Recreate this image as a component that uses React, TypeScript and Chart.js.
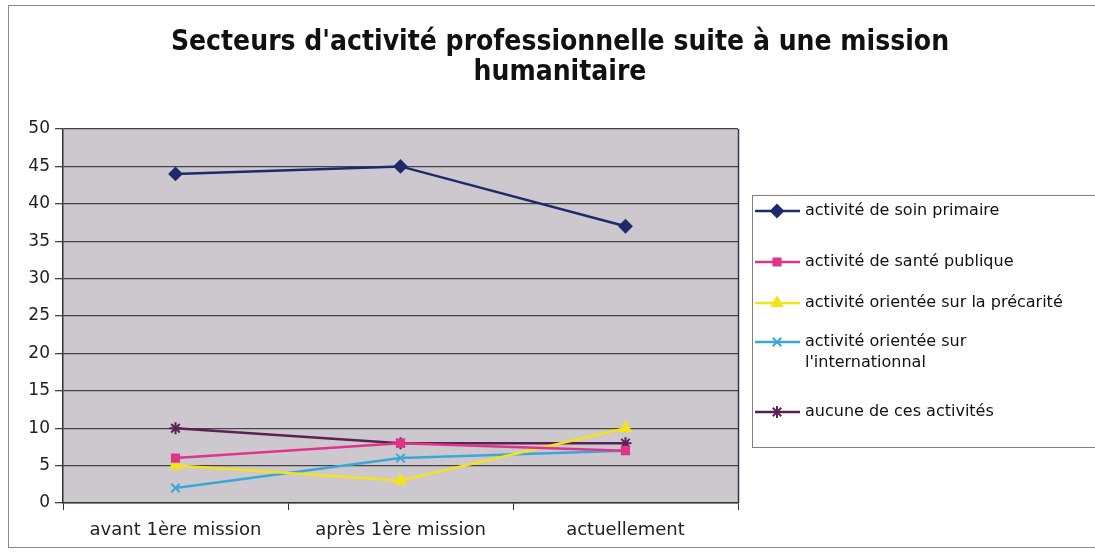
import React, { useEffect, useRef } from 'react';
import { Chart, registerables } from 'chart.js';
import { drawPoint } from 'chart.js/helpers';

Chart.register(...registerables);

const categories = ['avant 1ère mission', 'après 1ère mission', 'actuellement'];
const yTicks = [0, 5, 10, 15, 20, 25, 30, 35, 40, 45, 50];

const soinPrimaire = [44, 45, 37];
const santePublique = [6, 8, 7];
const precarite = [5, 3, 10];
const international = [2, 6, 7];
const aucune = [10, 8, 8];

const seriesLabels: string[][] = [
  ['activité de soin primaire'],
  ['activité de santé publique'],
  ['activité orientée sur la précarité'],
  ['activité orientée sur', "l'internationnal"],
  ['aucune de ces activités'],
];
const seriesValues = [soinPrimaire, santePublique, precarite, international, aucune];
const seriesColors = ['#1d2a6c', '#e0338b', '#f3e31c', '#3ba7d7', '#5a2252'];
const seriesMarkers = ['rectRot', 'rect', 'triangle', 'crossRot', 'star'];
const markerRadius = [6, 5, 6, 6, 6];

const titleLines = ["Secteurs d'activité professionnelle suite à une mission", 'humanitaire'];

const FONT = '"DejaVu Sans", Verdana, sans-serif';
const TITLE_FONT = '"DejaVu Sans Condensed", "DejaVu Sans", sans-serif';

const decorPlugin = {
  id: 'decor',
  beforeDraw(chart: any) {
    const ctx = chart.ctx;
    ctx.save();
    ctx.fillStyle = '#ffffff';
    ctx.fillRect(0, 0, chart.width, chart.height);
    ctx.strokeStyle = '#8a8a8a';
    ctx.lineWidth = 1;
    ctx.strokeRect(8.5, 5.5, 1200, 542);
    const a = chart.chartArea;
    ctx.fillStyle = '#ccc8ce';
    ctx.fillRect(a.left, a.top, a.right - a.left, a.bottom - a.top);
    ctx.restore();
  },
  afterDraw(chart: any) {
    const ctx = chart.ctx;
    const a = chart.chartArea;
    ctx.save();
    // plot border
    ctx.strokeStyle = '#34344a';
    ctx.lineWidth = 1.5;
    ctx.beginPath();
    ctx.moveTo(Math.round(a.right) + 0.5, a.top);
    ctx.lineTo(Math.round(a.right) + 0.5, a.bottom);
    ctx.stroke();
    // title
    ctx.fillStyle = '#111111';
    ctx.textAlign = 'center';
    ctx.textBaseline = 'middle';
    ctx.font = `bold 28px ${TITLE_FONT}`;
    ctx.fillText(titleLines[0], 560, 43);
    ctx.fillText(titleLines[1], 560, 73);
    // legend
    ctx.strokeStyle = '#808080';
    ctx.lineWidth = 1;
    ctx.strokeRect(752.5, 195.5, 400, 252);
    const ys = [211, 262, 303, 342, 412];
    ctx.font = `16px ${FONT}`;
    ctx.textAlign = 'left';
    for (let i = 0; i < seriesLabels.length; i++) {
      const y = ys[i];
      ctx.strokeStyle = seriesColors[i];
      ctx.lineWidth = 2.5;
      ctx.beginPath();
      ctx.moveTo(755, y);
      ctx.lineTo(800, y);
      ctx.stroke();
      ctx.fillStyle = seriesColors[i];
      ctx.lineWidth = 2;
      drawPoint(ctx, { pointStyle: seriesMarkers[i], radius: markerRadius[i], borderWidth: 2, rotation: 0 }, 777, y);
      ctx.fillStyle = '#111111';
      seriesLabels[i].forEach((line, k) => ctx.fillText(line, 805, y + k * 21));
    }
    ctx.restore();
  },
};

export default function App() {
  const ref = useRef<HTMLCanvasElement | null>(null);
  useEffect(() => {
    if (!ref.current) return;
    const chart = new Chart(ref.current, {
      type: 'line',
      data: {
        labels: categories,
        datasets: seriesValues.map((vals, i) => ({
          label: seriesLabels[i].join(' '),
          data: vals,
          borderColor: seriesColors[i],
          backgroundColor: seriesColors[i],
          pointStyle: seriesMarkers[i] as any,
          pointRadius: markerRadius[i],
          pointBorderWidth: 2,
          borderWidth: 2.5,
          tension: 0,
          fill: false,
        })),
      },
      options: {
        responsive: false,
        animation: false,
        layout: { padding: { left: 0, right: 357, top: 129, bottom: 0 } },
        plugins: { legend: { display: false }, title: { display: false }, tooltip: { enabled: false } },
        scales: {
          x: {
            offset: true,
            grid: { offset: true, drawOnChartArea: false, drawTicks: true, tickLength: 7, color: '#333333' },
            border: { display: true, color: '#333333', width: 1.5 },
            ticks: { color: '#222222', font: { family: FONT, size: 18 }, padding: 10, maxRotation: 0 },
            afterFit(scale: any) { scale.height = 52; },
          },
          y: {
            min: 0,
            max: 50,
            afterBuildTicks(scale: any) { scale.ticks = yTicks.map((v) => ({ value: v })); },
            grid: { color: '#454545', lineWidth: 1.3, tickLength: 8, drawTicks: true },
            border: { display: true, color: '#333333', width: 1.5 },
            ticks: { color: '#222222', font: { family: FONT, size: 17 }, padding: 5 },
            afterFit(scale: any) { scale.width = 63; },
          },
        },
      },
      plugins: [decorPlugin],
    });
    return () => chart.destroy();
  }, []);
  return (
    <div style={{ position: 'fixed', left: 0, top: 0, width: 1095, height: 555 }}>
      <canvas ref={ref} width={1095} height={555} style={{ width: 1095, height: 555 }} />
    </div>
  );
}
